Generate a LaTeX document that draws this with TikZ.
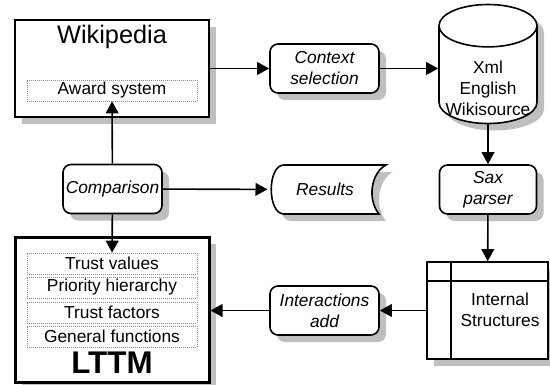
\documentclass[tikz,border=0pt]{standalone}
\usepackage{fontspec}
\setmainfont{Liberation Sans}
\usetikzlibrary{arrows.meta,shapes.geometric,shadows}

\tikzset{every picture/.style={line width=0.75pt}}
\tikzset{
  boxshadow/.style={drop shadow={shadow xshift=5.25pt,shadow yshift=-5.25pt,fill=black!25,opacity=1}},
  txt/.style={font=\fontsize{13}{15.75}\selectfont},
  block/.style={draw,fill=white,line width=1.2pt,boxshadow,inner sep=0pt,align=center,txt},
  process/.style={block,rounded corners=6pt,font=\fontsize{13}{15.75}\selectfont\itshape,minimum width=81.75pt,minimum height=36.75pt},
  field/.style={draw=black!45,densely dotted,line width=0.5pt,fill=white,inner sep=0pt,txt,minimum width=127.5pt,minimum height=15.75pt},
  flow/.style={line width=1.2pt,-{Triangle[length=9pt,width=9.5pt]}},
}

\begin{document}
\begin{tikzpicture}[x=0.75pt,y=0.75pt,yscale=-1,xscale=1]
\useasboundingbox (0,0) rectangle (550,385);

%Shape: Rectangle [Wikipedia]
\node [block,minimum width=145.5pt,minimum height=72.75pt] (wiki) at (112,68.5) {};
% Text Node
\node [font=\fontsize{19}{22}\selectfont] (wikititle) at (112,37) {Wikipedia};
\node [field] (award) at (112,90.5) {Award system};

%Shape: Rectangle [LTTM]
\node [block,line width=2.25pt,minimum width=145.5pt,minimum height=108.75pt] (lttm) at (112,309.5) {};
\node [field] (tv) at (112,263.5) {Trust values};
\node [field] (ph) at (112,287.5) {Priority hierarchy};
\node [field] (tf) at (112,312.5) {Trust factors};
\node [field] (gf) at (112,336.5) {General functions};
% Text Node
\node [font=\fontsize{23.5}{26}\selectfont\bfseries] (lttmtitle) at (112,363) {LTTM};

%Shape: Processes
\node [process] (ctx) at (324.5,68.5) {Context\\selection};
\node [process,minimum width=74.25pt] (cmp) at (112.5,189) {Comparison};
\node [process,minimum width=72.75pt] (sax) at (488,189.5) {Sax\\parser};
\node [process] (ia) at (324.5,310.5) {Interactions\\add};

%Shape: Can [Wikisource]
\node [block,cylinder,shape border rotate=90,aspect=0.5,minimum width=73.5pt,minimum height=89.25pt] (db) at (488,75) {\phantom{Wikisource}};
% Text Node
\node [txt,align=center] (dbtext) at (488,88) {Xml\\English\\Wikisource};

%Shape: Internal storage
\node [block,minimum width=90.75pt,minimum height=72.75pt] (ist) at (487.5,310.5) {};
\draw [line width=1.2pt] (451,262) -- (451,359) (427,281) -- (548,281);
% Text Node
\node [txt,align=center] (isttext) at (500,310) {Internal\\Structures};

%Shape: Stored data [Results]
\fill [black!25] (291,172) -- (393,172) .. controls (378,180) and (374,206) .. (386,221) -- (291,221) .. controls (274,221) and (274,172) .. (291,172) -- cycle;
\draw [line width=1.2pt,fill=white] (284,165) -- (386,165) .. controls (371,173) and (367,199) .. (379,214) -- (284,214) .. controls (267,214) and (267,165) .. (284,165) -- cycle;
\node [txt,font=\fontsize{13}{15.75}\selectfont\itshape,minimum width=85.5pt,minimum height=36.75pt,inner sep=0pt] (res) at (325,189.5) {Results};

%Connectors
\draw [flow] (wiki) -- (ctx);
\draw [flow] (ctx.east) -- (ctx.east -| db.west);
\draw [flow] (db) -- (sax);
\draw [flow] (sax) -- (ist);
\draw [flow] (ist) -- (ia);
\draw [flow] (ia) -- (ia -| lttm.east);
\draw [flow] (cmp) -- (award);
\draw [flow] (cmp) -- (tv);
\draw [flow] (cmp) -- (res);

\end{tikzpicture}
\end{document}
